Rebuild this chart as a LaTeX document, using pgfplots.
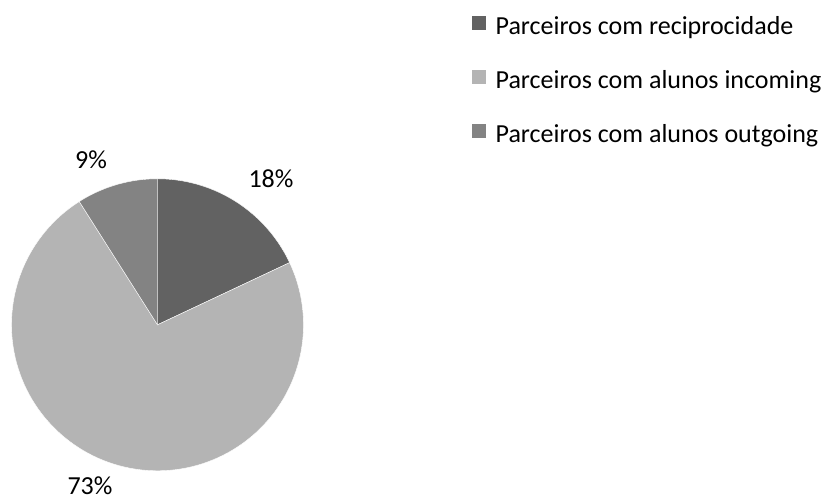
\documentclass[border=0pt]{standalone}
\usepackage{pgfplots}
\usepackage{pgfplotstable}
\pgfplotsset{compat=1.18}
\usepackage{fontspec}
\setmainfont{Carlito}
\definecolor{cA}{HTML}{626262}
\definecolor{cB}{HTML}{B4B4B4}
\definecolor{cC}{HTML}{838383}
\pgfplotstableread{
label value
rec 18
inc 73
out 9
}\piedata
\pgfplotstablegetelem{0}{value}\of\piedata \let\va\pgfplotsretval
\pgfplotstablegetelem{1}{value}\of\piedata \let\vb\pgfplotsretval
\pgfplotstablegetelem{2}{value}\of\piedata \let\vc\pgfplotsretval
\pgfmathsetmacro{\aA}{90}
\pgfmathsetmacro{\aB}{90-3.6*\va}
\pgfmathsetmacro{\aC}{\aB-3.6*\vb}
\pgfmathsetmacro{\aD}{\aC-3.6*\vc}
\newcommand{\bigf}{\fontsize{26}{31}\selectfont}
\begin{document}
\begin{tikzpicture}
\begin{axis}[
  width=830pt, height=502pt, scale only axis,
  xmin=0, xmax=830, ymin=-502, ymax=0,
  hide axis, clip=false,
  legend style={at={(axis cs:471,-15)}, anchor=north west, draw=none, fill=none,
    font=\bigf, row sep=28pt, column sep=9pt, inner sep=0pt,
    nodes={inner sep=0pt, text height=18pt, text depth=6pt}},
  legend cell align=left,
  legend image code/.code={\fill[#1] (0pt,-1.5pt) rectangle (15pt,13.5pt);},
]
\path (axis cs:0,0) -- (axis cs:830,-502);
\addplot[fill=cA, draw=white, line width=0.4pt, domain=\aA:\aB, samples=60] ({157.5+146*cos(x)},{-324.8+146*sin(x)}) -- (axis cs:157.5,-324.8) -- cycle;
\addlegendentry{Parceiros com reciprocidade}
\addplot[fill=cB, draw=white, line width=0.4pt, domain=\aB:\aC, samples=120] ({157.5+146*cos(x)},{-324.8+146*sin(x)}) -- (axis cs:157.5,-324.8) -- cycle;
\addlegendentry{Parceiros com alunos incoming}
\addplot[fill=cC, draw=white, line width=0.4pt, domain=\aC:\aD, samples=30] ({157.5+146*cos(x)},{-324.8+146*sin(x)}) -- (axis cs:157.5,-324.8) -- cycle;
\addlegendentry{Parceiros com alunos outgoing}
\node[font=\bigf, anchor=base, inner sep=0pt] at (axis cs:271,-188) {18\%};
\node[font=\bigf, anchor=base, inner sep=0pt] at (axis cs:91,-169) {9\%};
\node[font=\bigf, anchor=base, inner sep=0pt] at (axis cs:90,-495) {73\%};
\end{axis}
\end{tikzpicture}
\end{document}
